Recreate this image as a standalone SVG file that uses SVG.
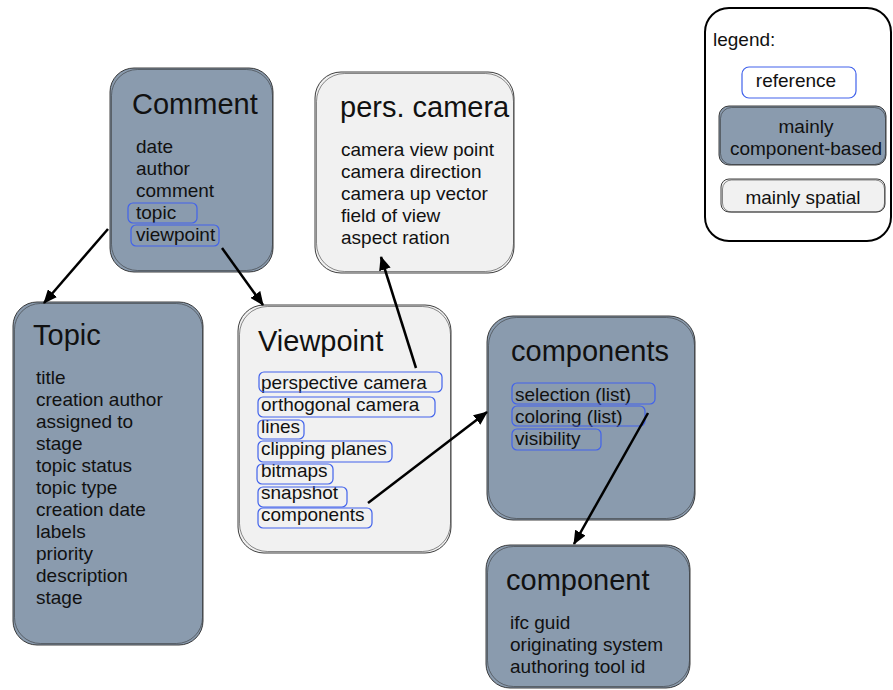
<svg xmlns="http://www.w3.org/2000/svg" width="893" height="690" viewBox="0 0 893 690">
<defs>
<style>
text{font-family:"Liberation Sans",Arial,Helvetica,sans-serif;fill:#111}
.t{font-size:29px}
.i{font-size:19px}
.dark{fill:#8a9bae;stroke:#2a2a2a;stroke-width:0.9}
.light{fill:#f1f1f1;stroke:#2a2a2a;stroke-width:0.9}
.sk{fill:none;stroke:#333;stroke-width:0.7;stroke-opacity:0.8}
.ref{fill:none;stroke:#4263eb;stroke-width:1.2}
.c{stroke:#000;stroke-width:2.5;fill:none;marker-end:url(#ah)}
</style>
<marker id="ah" viewBox="0 0 14 12" refX="13" refY="6" markerWidth="14" markerHeight="12" markerUnits="userSpaceOnUse" orient="auto">
<path d="M0,0 L14,6 L0,12 Z" fill="#000"/>
</marker>
</defs>
<rect width="893" height="690" fill="#fff"/>

<g id="legend">
<rect x="705" y="8" width="186" height="233" rx="24" fill="#fff" stroke="#000" stroke-width="2"/>
<text class="i" x="713" y="46">legend:</text>
<rect x="742" y="67" width="114" height="31" rx="7" fill="#fff" class="ref"/>
<text class="i" x="796" y="87" text-anchor="middle">reference</text>
<rect x="719" y="106" width="167" height="59" rx="10" class="dark"/>
<rect x="720.5" y="107.5" width="165" height="57" rx="11" class="sk"/>
<text class="i" x="806" y="133" text-anchor="middle">mainly</text>
<text class="i" x="806" y="155" text-anchor="middle">component-based</text>
<rect x="721" y="179" width="164" height="33" rx="8" class="light"/>
<rect x="722.5" y="180" width="162" height="32" rx="9" class="sk"/>
<text class="i" x="803" y="204" text-anchor="middle">mainly spatial</text>
</g>

<g id="comment">
<rect x="110" y="68" width="163" height="204" rx="24" class="dark"/>
<rect x="111.5" y="69.5" width="161" height="201" rx="26" class="sk"/>
<text class="t" x="132" y="114">Comment</text>
<text class="i" x="136" y="153">date</text>
<text class="i" x="136" y="175">author</text>
<text class="i" x="136" y="197">comment</text>
<text class="i" x="136" y="219">topic</text>
<text class="i" x="136" y="241">viewpoint</text>
<rect x="128" y="203" width="69" height="20" rx="5" class="ref"/>
<rect x="131" y="225" width="88" height="21" rx="5" class="ref"/>
</g>

<g id="topic">
<rect x="13" y="302" width="190" height="343" rx="24" class="dark"/>
<rect x="14.5" y="303.5" width="188" height="340" rx="26" class="sk"/>
<text class="t" x="33" y="345">Topic</text>
<text class="i" x="36" y="384">title</text>
<text class="i" x="36" y="406">creation author</text>
<text class="i" x="36" y="428">assigned to</text>
<text class="i" x="36" y="450">stage</text>
<text class="i" x="36" y="472">topic status</text>
<text class="i" x="36" y="494">topic type</text>
<text class="i" x="36" y="516">creation date</text>
<text class="i" x="36" y="538">labels</text>
<text class="i" x="36" y="560">priority</text>
<text class="i" x="36" y="582">description</text>
<text class="i" x="36" y="604">stage</text>
</g>

<g id="pers-camera">
<rect x="315" y="72" width="199" height="201" rx="26" class="light"/>
<rect x="316.5" y="73.5" width="197" height="198" rx="28" class="sk"/>
<text class="t" x="340" y="117">pers. camera</text>
<text class="i" x="341" y="156">camera view point</text>
<text class="i" x="341" y="178">camera direction</text>
<text class="i" x="341" y="200">camera up vector</text>
<text class="i" x="341" y="222">field of view</text>
<text class="i" x="341" y="244">aspect ration</text>
</g>

<g id="viewpoint">
<rect x="238" y="305" width="213" height="248" rx="26" class="light"/>
<rect x="239.5" y="306.5" width="211" height="245" rx="28" class="sk"/>
<text class="t" x="258" y="351">Viewpoint</text>
<text class="i" x="261" y="389">perspective camera</text>
<text class="i" x="261" y="411">orthogonal camera</text>
<text class="i" x="261" y="433">lines</text>
<text class="i" x="261" y="455">clipping planes</text>
<text class="i" x="261" y="477">bitmaps</text>
<text class="i" x="261" y="499">snapshot</text>
<text class="i" x="261" y="521">components</text>
<rect x="259" y="372" width="183" height="20" rx="5" class="ref"/>
<rect x="258" y="397" width="177" height="20" rx="5" class="ref"/>
<rect x="258" y="420" width="46" height="19" rx="5" class="ref"/>
<rect x="258" y="441" width="134" height="21" rx="5" class="ref"/>
<rect x="257" y="464" width="76" height="20" rx="5" class="ref"/>
<rect x="258" y="487" width="89" height="20" rx="5" class="ref"/>
<rect x="258" y="508" width="114" height="20" rx="5" class="ref"/>
</g>

<g id="components">
<rect x="487" y="316" width="208" height="204" rx="26" class="dark"/>
<rect x="488.5" y="317.5" width="206" height="201" rx="28" class="sk"/>
<text class="t" x="511" y="361">components</text>
<text class="i" x="515" y="401">selection (list)</text>
<text class="i" x="515" y="423">coloring (list)</text>
<text class="i" x="515" y="445">visibility</text>
<rect x="512" y="383" width="143" height="21" rx="5" class="ref"/>
<rect x="512" y="406" width="133" height="20" rx="5" class="ref"/>
<rect x="512" y="429" width="89" height="21" rx="5" class="ref"/>
</g>

<g id="component">
<rect x="486" y="545" width="204" height="143" rx="24" class="dark"/>
<rect x="487.5" y="546.5" width="202" height="140" rx="26" class="sk"/>
<text class="t" x="506" y="590">component</text>
<text class="i" x="510" y="629">ifc guid</text>
<text class="i" x="510" y="651">originating system</text>
<text class="i" x="510" y="673">authoring tool id</text>
</g>

<g id="connectors">
<path class="c" d="M108,229 L44,303"/>
<path class="c" d="M222,248 L263,305"/>
<path class="c" d="M416,368 L381,257"/>
<path class="c" d="M368,503 L487,412"/>
<path class="c" d="M648,413 L574,544"/>
</g>
</svg>
